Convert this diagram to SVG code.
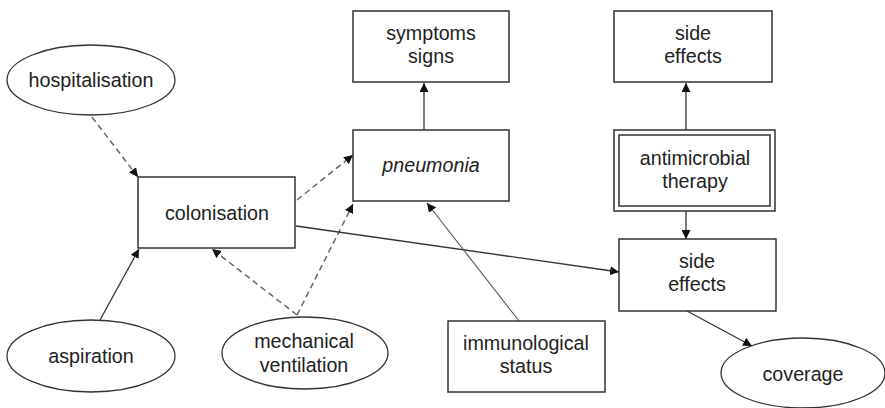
<svg xmlns="http://www.w3.org/2000/svg" width="885" height="408" viewBox="0 0 885 408">
<style>
.box{fill:#fff;stroke:#333;stroke-width:1.5}
.ell{fill:#fff;stroke:#333;stroke-width:1.3}
.t{font-family:"Liberation Sans",Arial,sans-serif;font-size:19.7px;fill:#222;text-anchor:middle}
.s{fill:none;stroke:#333;stroke-width:1.3}
.d{fill:none;stroke:#666;stroke-width:1.5;stroke-dasharray:6,4}
.g{fill:none;stroke:#555;stroke-width:1.1}
</style>
<defs>
<marker id="ah" viewBox="0 0 10 10" refX="10" refY="5" markerWidth="9" markerHeight="9" markerUnits="userSpaceOnUse" orient="auto">
<path d="M0,0 L10,5 L0,10 z" fill="#111"/>
</marker>
</defs>
<rect width="885" height="408" fill="#fff"/>
<g id="connectors">
<line class="d" x1="92" y1="117" x2="138" y2="177" marker-end="url(#ah)"/>
<line class="s" x1="100" y1="320" x2="139" y2="249" marker-end="url(#ah)"/>
<line class="d" x1="297" y1="315" x2="212" y2="249" marker-end="url(#ah)"/>
<line class="d" x1="297" y1="315" x2="353" y2="204" marker-end="url(#ah)"/>
<line class="d" x1="297" y1="200" x2="353" y2="155" marker-end="url(#ah)"/>
<line class="s" x1="296" y1="226" x2="619" y2="272" marker-end="url(#ah)"/>
<line class="s" x1="424" y1="130" x2="424" y2="83" marker-end="url(#ah)"/>
<line class="g" x1="519" y1="321" x2="427" y2="203" marker-end="url(#ah)"/>
<line class="s" x1="686" y1="130" x2="686" y2="83" marker-end="url(#ah)"/>
<line class="s" x1="686" y1="211" x2="686" y2="239" marker-end="url(#ah)"/>
<line class="s" x1="687" y1="311" x2="752" y2="346" marker-end="url(#ah)"/>
</g>
<g id="hospitalisation">
<ellipse class="ell" cx="91" cy="80" rx="84" ry="35"/>
<text class="t" x="91" y="87">hospitalisation</text>
</g>
<g id="colonisation">
<rect class="box" x="138" y="177" width="157" height="71"/>
<text class="t" x="217" y="220">colonisation</text>
</g>
<g id="symptoms">
<rect class="box" x="353" y="11" width="156" height="71"/>
<text class="t" x="431" y="40">symptoms</text>
<text class="t" x="431" y="63">signs</text>
</g>
<g id="pneumonia">
<rect class="box" x="353" y="130" width="156" height="71"/>
<text class="t" x="431" y="172" font-style="italic">pneumonia</text>
</g>
<g id="side-effects-top">
<rect class="box" x="614" y="11" width="158" height="71"/>
<text class="t" x="693" y="40">side</text>
<text class="t" x="693" y="63">effects</text>
</g>
<g id="antimicrobial-therapy">
<rect class="box" x="614" y="130" width="161" height="81"/>
<rect class="box" x="619" y="135" width="151" height="71"/>
<text class="t" x="695" y="165">antimicrobial</text>
<text class="t" x="695" y="188">therapy</text>
</g>
<g id="side-effects-bottom">
<rect class="box" x="619" y="239" width="157" height="72"/>
<text class="t" x="697" y="268">side</text>
<text class="t" x="697" y="291">effects</text>
</g>
<g id="immunological-status">
<rect class="box" x="448" y="321" width="157" height="71"/>
<text class="t" x="526" y="350">immunological</text>
<text class="t" x="526" y="373">status</text>
</g>
<g id="aspiration">
<ellipse class="ell" cx="91" cy="356" rx="84" ry="36"/>
<text class="t" x="91" y="363">aspiration</text>
</g>
<g id="mechanical-ventilation">
<ellipse class="ell" cx="305" cy="353" rx="83" ry="36"/>
<text class="t" x="304" y="348">mechanical</text>
<text class="t" x="304" y="372">ventilation</text>
</g>
<g id="coverage">
<ellipse class="ell" cx="803" cy="373" rx="82" ry="35"/>
<text class="t" x="803" y="381">coverage</text>
</g>
</svg>
